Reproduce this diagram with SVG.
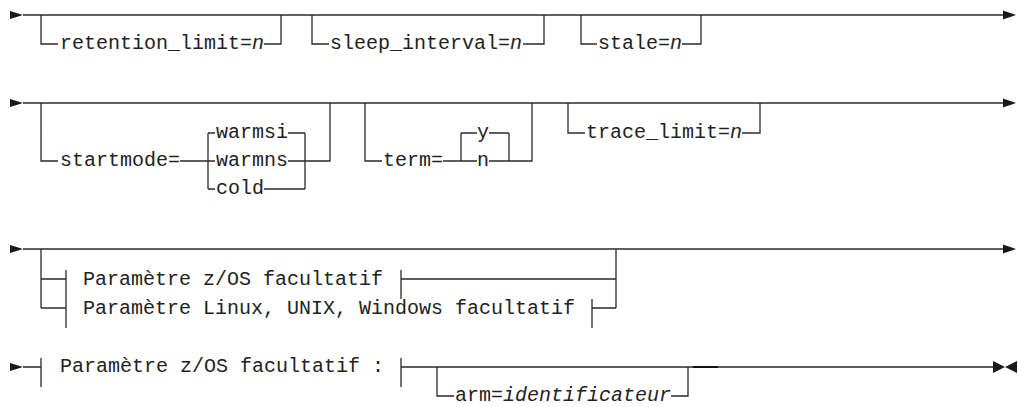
<svg xmlns="http://www.w3.org/2000/svg" width="1018" height="407" viewBox="0 0 1018 407">
<style>
.t{font-family:"Liberation Mono","DejaVu Sans Mono",monospace;font-size:20px;fill:#222}
.i{font-style:italic}
.c{fill:none;stroke:#2a2a2a;stroke-width:1.3}
.a{fill:#1a1a1a}
</style>
<rect width="1018" height="407" fill="#fff"/>
<g id="connectors">
<!-- row 1 -->
<path class="c" d="M23 15H1003"/>
<path class="c" d="M41 15V44H58M264 44H281V15"/>
<path class="c" d="M312 15V44H329M523 44H544V15"/>
<path class="c" d="M581 15V44H597M682 44H701V15"/>
<!-- row 2 -->
<path class="c" d="M23 103H1003"/>
<path class="c" d="M41 103V161H58M180 161H215M208 133V189M208 133H215M208 189H215M288 133H305M288 161H305M264 189H305M305 133V189M305 161H330V103"/>
<path class="c" d="M365 103V161H382M443 161H477M461 133V161M461 133H477M489 133H509M489 161H509M509 133V161H532V103"/>
<path class="c" d="M568 103V133H585M742 133H760V103"/>
<!-- row 3 -->
<path class="c" d="M23 249H1003"/>
<path class="c" d="M41 249V308M41 279H66M41 308H66M66 270V328"/>
<path class="c" d="M401 270V299M401 279H616M592 299V328M592 308H616M616 249V308"/>
<!-- row 4 -->
<path class="c" d="M23 367H41M41 358V387M401 358V387M401 367H993"/>
<path class="c" d="M437 367V396H454M671 396H688V367"/>
<path fill="none" stroke="#111" stroke-width="2" d="M693 367H718"/>
<!-- arrows -->
<polygon class="a" points="10,11 23,15 10,19"/>
<polygon class="a" points="1003,10.5 1016,15 1003,19.5"/>
<polygon class="a" points="10,99 23,103 10,107"/>
<polygon class="a" points="1003,98.5 1016,103 1003,107.5"/>
<polygon class="a" points="10,245 23,249 10,253"/>
<polygon class="a" points="1003,244.5 1016,249 1003,253.5"/>
<polygon class="a" points="10,363 23,367 10,371"/>
<polygon class="a" points="993,361 1005,367 993,373"/>
<polygon class="a" points="1017,361 1005,367 1017,373"/>
</g>
<g id="retention_limit"><text class="t" x="60" y="49">retention_limit=<tspan class="i">n</tspan></text></g>
<g id="sleep_interval"><text class="t" x="330" y="49">sleep_interval=<tspan class="i">n</tspan></text></g>
<g id="stale"><text class="t" x="598" y="49">stale=<tspan class="i">n</tspan></text></g>
<g id="startmode"><text class="t" x="60" y="166">startmode=</text></g>
<g id="warmsi"><text class="t" x="216" y="138">warmsi</text></g>
<g id="warmns"><text class="t" x="216" y="166">warmns</text></g>
<g id="cold"><text class="t" x="216" y="194">cold</text></g>
<g id="term"><text class="t" x="383" y="166">term=</text></g>
<g id="term_y"><text class="t" x="477" y="138">y</text></g>
<g id="term_n"><text class="t" x="477" y="166">n</text></g>
<g id="trace_limit"><text class="t" x="586" y="138">trace_limit=<tspan class="i">n</tspan></text></g>
<g id="zos_ref"><text class="t" x="83" y="285">Paramètre z/OS facultatif</text></g>
<g id="linux_ref"><text class="t" x="83" y="314">Paramètre Linux, UNIX, Windows facultatif</text></g>
<g id="zos_fragment"><text class="t" x="60" y="372">Paramètre z/OS facultatif :</text></g>
<g id="arm"><text class="t" x="455" y="401">arm=<tspan class="i">identificateur</tspan></text></g>
</svg>
